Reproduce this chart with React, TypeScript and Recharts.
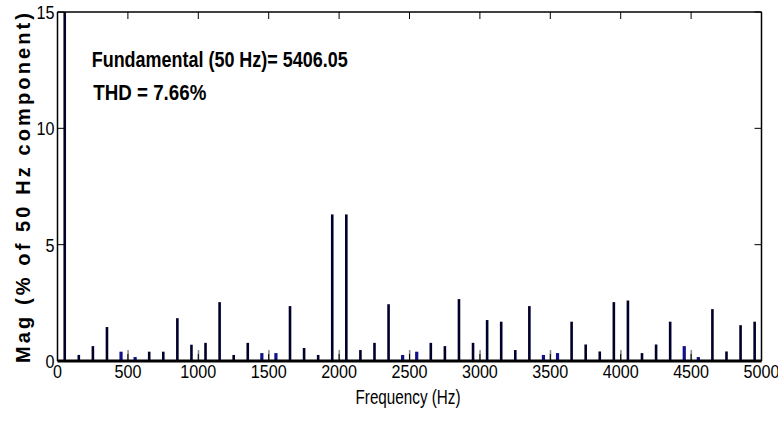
import { BarChart, Bar, XAxis, YAxis } from 'recharts';

// odd harmonics (dark bars)
const mainFreqs = [
  50, 150, 250, 350, 650, 750, 850, 950, 1050, 1150, 1250, 1350, 1650, 1750, 1850, 1950, 2050, 2150, 2250, 2350,
  2650, 2750, 2850, 2950, 3050, 3150, 3250, 3350, 3650, 3750, 3850, 3950, 4050, 4150, 4250, 4350, 4650, 4750, 4850, 4950,
];
const mainMags = [
  100, 0.26, 0.64, 1.46, 0.4, 0.4, 1.84, 0.7, 0.78, 2.53, 0.26, 0.78, 2.36, 0.56, 0.26, 6.3, 6.3, 0.47, 0.78, 2.44,
  0.78, 0.64, 2.66, 0.78, 1.76, 1.69, 0.47, 2.36, 1.69, 0.71, 0.41, 2.53, 2.6, 0.34, 0.71, 1.69, 2.23, 0.41, 1.54, 1.69,
];
// blue bars
const blueFreqs = [450, 550, 1450, 1550, 2450, 2550, 3450, 3550, 4450, 4550];
const blueMags = [0.4, 0.17, 0.34, 0.34, 0.26, 0.4, 0.26, 0.34, 0.64, 0.17];
// gray bars
const grayFreqs = [500, 1000, 1500, 2000, 2500, 3000, 3500, 4000, 4500];
const grayMags = [0.47, 0.47, 0.47, 0.47, 0.47, 0.47, 0.47, 0.47, 0.47];

const xTicks = [0, 500, 1000, 1500, 2000, 2500, 3000, 3500, 4000, 4500, 5000];
const yTicks = [0, 5, 10, 15];

const data = [
  ...mainFreqs.map((f, i) => ({ f, mag: mainMags[i], kind: 'main' })),
  ...blueFreqs.map((f, i) => ({ f, mag: blueMags[i], kind: 'blue' })),
  ...grayFreqs.map((f, i) => ({ f, mag: grayMags[i], kind: 'gray' })),
].sort((a, b) => a.f - b.f);

const barStyle: any = {
  main: { fill: '#00002b', w: 2.6 },
  blue: { fill: '#10108a', w: 3.2 },
  gray: { fill: '#8a8a8a', w: 1.6 },
};

const FONT = "'Liberation Sans Narrow', 'Arial Narrow', 'Liberation Sans', sans-serif";
const FRAME = { stroke: '#000', strokeWidth: 1.5 };

const BarShape = (props: any) => {
  const { x, y, width, height, payload } = props;
  const s = barStyle[payload.kind];
  const cx = x + width / 2;
  return <rect x={cx - s.w / 2} y={y} width={s.w} height={height} fill={s.fill} />;
};

const NoShape = () => null;

const BottomTick = ({ x, y, payload }: any) => (
  <g>
    <line x1={x} x2={x} y1={y} y2={y - 7} stroke="#000" />
    <text
      transform={`translate(${x},${y + 17}) scale(0.85,1)`}
      textAnchor="middle"
      fontFamily={FONT}
      fontSize={19}
      fill="#000"
    >
      {payload.value}
    </text>
  </g>
);

const TopTick = ({ x, y }: any) => <line x1={x} x2={x} y1={y} y2={y + 7} stroke="#000" />;

const LeftTick = ({ x, y, payload }: any) => (
  <g>
    <line x1={x} x2={x + 7} y1={y} y2={y} stroke="#000" />
    <text
      transform={`translate(${x - 3},${y + 7}) scale(0.85,1)`}
      textAnchor="end"
      fontFamily={FONT}
      fontSize={19}
      fill="#000"
    >
      {payload.value}
    </text>
  </g>
);

const RightTick = ({ x, y }: any) => <line x1={x} x2={x - 7} y1={y} y2={y} stroke="#000" />;

export default function App() {
  return (
    <div style={{ position: 'absolute', left: 0, top: 0, background: '#fff' }}>
      <BarChart
        width={778}
        height={423}
        data={data}
        margin={{ top: 0, right: 15.5, bottom: 32, left: 17.5 }}
      >
        <XAxis
          dataKey="f"
          type="number"
          domain={[0, 5000]}
          ticks={xTicks}
          tick={<BottomTick />}
          tickLine={false}
          tickSize={0}
          tickMargin={0}
          height={30}
          axisLine={{ stroke: '#000', strokeWidth: 3 }}
          allowDataOverflow
        />
        <XAxis
          xAxisId="top"
          orientation="top"
          dataKey="f"
          type="number"
          domain={[0, 5000]}
          ticks={xTicks}
          tick={<TopTick />}
          tickLine={false}
          tickSize={0}
          tickMargin={0}
          height={12}
          axisLine={FRAME}
          allowDataOverflow
        />
        <YAxis
          type="number"
          domain={[0, 15]}
          ticks={yTicks}
          tick={<LeftTick />}
          tickLine={false}
          tickSize={0}
          tickMargin={0}
          width={40}
          axisLine={FRAME}
          allowDataOverflow
        />
        <YAxis
          yAxisId="right"
          orientation="right"
          type="number"
          domain={[0, 15]}
          ticks={yTicks}
          tick={<RightTick />}
          tickLine={false}
          tickSize={0}
          tickMargin={0}
          width={1}
          axisLine={FRAME}
          allowDataOverflow
        />
        <Bar dataKey="mag" shape={<BarShape />} isAnimationActive={false} />
        {/* invisible series so the top and right axes get drawn */}
        <Bar
          xAxisId="top"
          yAxisId="right"
          dataKey="mag"
          shape={<NoShape />}
          isAnimationActive={false}
        />
        <text
          x={91.7}
          y={67}
          fontFamily={FONT}
          fontWeight="bold"
          fontSize={22}
          textLength={256}
          lengthAdjust="spacingAndGlyphs"
          fill="#000"
        >
          Fundamental (50 Hz)= 5406.05
        </text>
        <text
          x={93.3}
          y={100}
          fontFamily={FONT}
          fontWeight="bold"
          fontSize={22}
          textLength={113}
          lengthAdjust="spacingAndGlyphs"
          fill="#000"
        >
          THD = 7.66%
        </text>
        <text
          x={408}
          y={404}
          textAnchor="middle"
          fontFamily={FONT}
          fontSize={20}
          textLength={105}
          lengthAdjust="spacingAndGlyphs"
          fill="#000"
        >
          Frequency (Hz)
        </text>
        <text
          transform="translate(30,188) rotate(-90)"
          x={0}
          y={0}
          textAnchor="middle"
          fontFamily={FONT}
          fontWeight="bold"
          fontSize={20}
          textLength={350}
          lengthAdjust="spacing"
          fill="#000"
        >
          Mag (% of 50 Hz component)
        </text>
      </BarChart>
    </div>
  );
}
